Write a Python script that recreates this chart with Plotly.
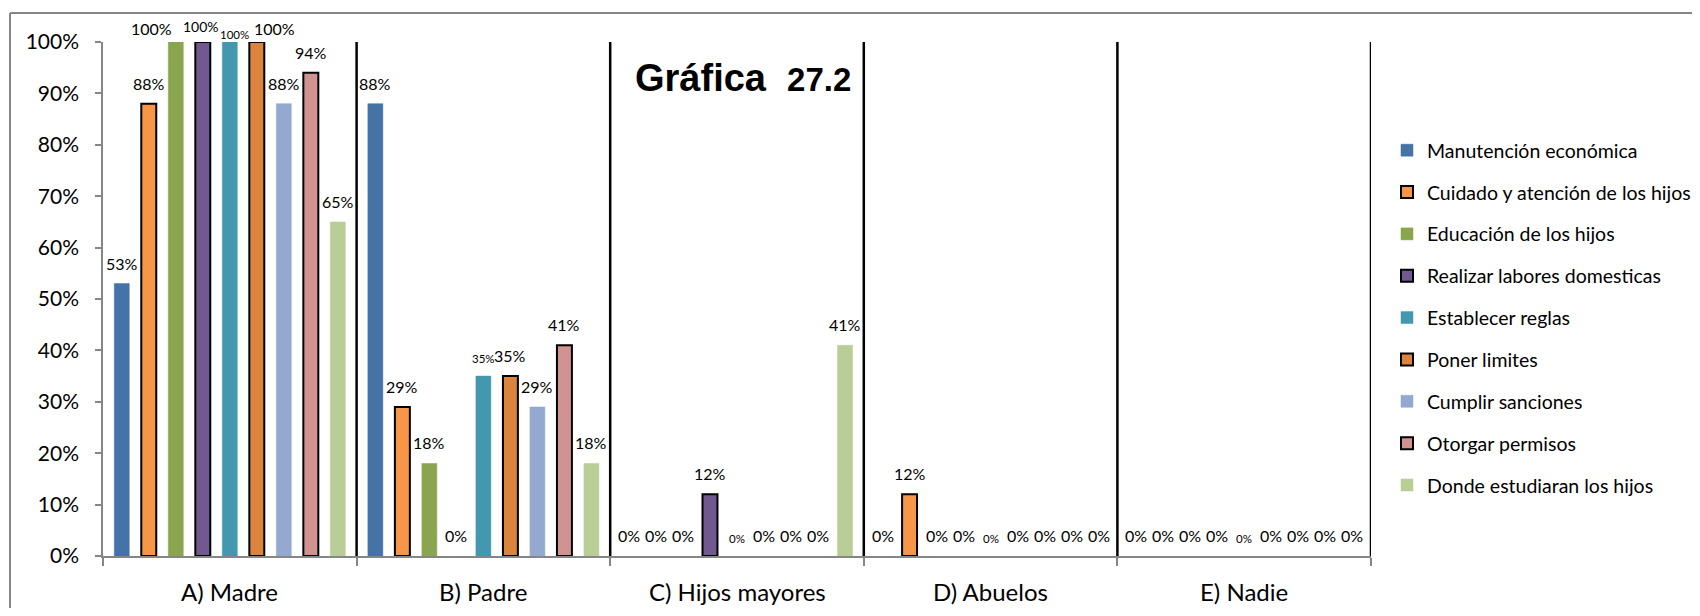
import plotly.graph_objects as go

# ---------------- data ----------------
categories = ["A) Madre", "B) Padre", "C) Hijos mayores", "D) Abuelos", "E) Nadie"]
series_names = [
    "Manutención económica",
    "Cuidado y atención de los hijos",
    "Educación de los hijos",
    "Realizar labores domesticas",
    "Establecer reglas",
    "Poner limites",
    "Cumplir sanciones",
    "Otorgar permisos",
    "Donde estudiaran los hijos",
]
manutencion = [53, 88, 0, 0, 0]
cuidado = [88, 29, 0, 12, 0]
educacion = [100, 18, 0, 0, 0]
labores = [100, 0, 12, 0, 0]
reglas = [100, 35, 0, 0, 0]
limites = [100, 35, 0, 0, 0]
sanciones = [88, 29, 0, 0, 0]
permisos = [94, 41, 0, 0, 0]
estudios = [65, 18, 41, 0, 0]
series_values = [manutencion, cuidado, educacion, labores, reglas,
                 limites, sanciones, permisos, estudios]
y_ticks = list(range(0, 101, 10))

# ---------------- styles ----------------
colors = ["#4572A7", "#F79646", "#89A54E", "#71588F", "#4198AF",
          "#DB843D", "#93A9CF", "#D19392", "#B9CD96"]
outlined = [False, True, False, True, False, True, False, True, False]
label_sizes = [16, 16, 16, 16, 11.5, 16, 16, 16, 16]
# manual label nudges (category index, series index) -> shifts
label_nudges = {
    (0, 2): dict(xshift=-24, yshift=2),
    (0, 3): dict(xshift=-2, yshift=5, size=14),
    (0, 4): dict(xshift=5, yshift=-1),
    (0, 5): dict(xshift=18, yshift=2),
}
slot = 0.1065
bar_w = 0.059
FONT = "Lato"
AXIS_GRAY = "#868686"

# figure geometry (page has an 8px body margin)
W, H = 1684, 600
ML, MT, PW, PH = 95, 34, 1268, 514


def px_x(p):  # page pixel x -> paper
    return (p - 8 - ML) / PW


def px_y(p):  # page pixel y -> paper
    return (MT + PH - (p - 8)) / PH


fig = go.Figure()
annotations = []
n = len(series_names)
for i, (name, vals) in enumerate(zip(series_names, series_values)):
    off = (i - (n - 1) / 2) * slot
    xs = [c + off for c in range(len(categories))]
    fig.add_trace(go.Bar(
        x=xs, y=[v if v else None for v in vals], width=bar_w, name=name, legendgroup=name,
        marker=dict(color=colors[i],
                    line=dict(color="black" if outlined[i] else colors[i],
                              width=2 if outlined[i] else 0.5)),
        hoverinfo="name+y",
    ))
    for c, v in enumerate(vals):
        nud = label_nudges.get((c, i), {})
        annotations.append(dict(
            x=xs[c], y=v, xref="x", yref="y", text=f"{v}%", showarrow=False,
            xanchor="center", yanchor="bottom",
            xshift=nud.get("xshift", 0), yshift=nud.get("yshift", 9),
            font=dict(family=FONT, size=nud.get("size", label_sizes[i]), color="black"),
        ))

for c, cat in enumerate(categories):
    annotations.append(dict(
        x=c, y=0, xref="x", yref="y", text=cat, showarrow=False,
        xanchor="center", yanchor="top", yshift=-19,
        font=dict(family=FONT, size=24, color="black"),
    ))

annotations.append(dict(
    x=px_x(633), y=px_y(101), xref="paper", yref="paper",
    xanchor="left", yanchor="bottom", showarrow=False,
    text="<b>Gráfica</b>  <b><span style='font-size:33px'>27.2</span></b>",
    font=dict(family="Liberation Sans", size=38, color="black"),
))

shapes = []
for c in range(len(categories)):
    shapes.append(dict(type="line", xref="x", yref="y", x0=c + 0.5, x1=c + 0.5,
                       y0=0, y1=100, line=dict(color="black", width=2.5)))
# outer chart frame (top and left edges visible)
fx = px_x(10)
fy = px_y(13)
shapes.append(dict(type="line", xref="paper", yref="paper", x0=fx, x1=1.5, y0=fy, y1=fy,
                   line=dict(color=AXIS_GRAY, width=2)))
shapes.append(dict(type="line", xref="paper", yref="paper", x0=fx, x1=fx, y0=-0.3, y1=fy,
                   line=dict(color=AXIS_GRAY, width=2)))

fig.update_layout(
    width=W, height=H,
    margin=dict(l=ML, r=W - ML - PW, t=MT, b=H - MT - PH, autoexpand=False),
    paper_bgcolor="white", plot_bgcolor="white",
    barmode="overlay",
    showlegend=True,
    legend=dict(x=px_x(1387), y=px_y(131), xanchor="left", yanchor="top",
                font=dict(family=FONT, size=19.5, color="black"),
                tracegroupgap=13.5, bgcolor="rgba(0,0,0,0)"),
    annotations=annotations,
    shapes=shapes,
    font=dict(family=FONT, color="black"),
)
fig.update_xaxes(
    range=[-0.5, len(categories) - 0.5],
    tickvals=[c - 0.5 for c in range(len(categories) + 1)],
    ticktext=[""] * (len(categories) + 1),
    ticks="outside", ticklen=8, tickcolor=AXIS_GRAY, tickwidth=1.5,
    showline=True, linecolor=AXIS_GRAY, linewidth=1.5,
    showgrid=False, zeroline=False, fixedrange=True,
)
fig.update_yaxes(
    range=[0, 100], tickvals=y_ticks, ticktext=[f"{t}%" for t in y_ticks],
    ticks="outside", ticklen=6, tickcolor=AXIS_GRAY, tickwidth=1.5,
    showline=True, linecolor=AXIS_GRAY, linewidth=1.5,
    showgrid=False, zeroline=False,
    tickfont=dict(family=FONT, size=21, color="black"),
    ticklabelstandoff=12,
)

fig.write_html("out.html")
